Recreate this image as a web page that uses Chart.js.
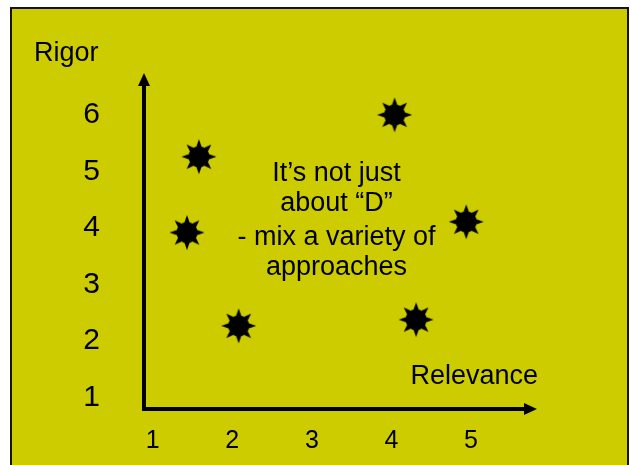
<!DOCTYPE html>
<html lang="en">
<head>
<meta charset="UTF-8" />
<title>Rigor vs Relevance</title>
<script src="https://cdn.jsdelivr.net/npm/chart.js"></script>
<style>
    body {
        margin: 0;
        background: #fff;
    }

    .frame {
        position: absolute;
        left: 10px;
        top: 7px;
        width: 619px;
        height: 470px;
        box-sizing: border-box;
        background: #cccc00;
        border: 2px solid #161600;
        border-bottom: none;
    }

    #chart {
        position: absolute;
        left: 0;
        top: 0;
    }
</style>
</head>
<body>
<div class="frame"></div>
<canvas id="chart" width="630" height="465"></canvas>

<script>
    // approaches placed on the relevance / rigor plane
    const relevance = [1.58, 1.43, 2.08, 4.04, 4.94, 4.31];
    const rigor = [5.26, 3.92, 2.27, 6.0, 4.11, 2.38];

    const xTickValues = [1, 2, 3, 4, 5];
    const yTickValues = [1, 2, 3, 4, 5, 6];

    const xTitle = "Relevance";
    const yTitle = "Rigor";
    const noteLines = ["It’s not just", "about “D”", "- mix a variety of", "approaches"];

    const FONT = "'Liberation Sans', Arial, sans-serif";

    // sun marker: black disc with 8 pointed rays
    function makeSun() {
        const c = document.createElement("canvas");
        c.width = 38;
        c.height = 38;
        const g = c.getContext("2d");
        g.fillStyle = "#000";
        g.translate(19, 19);
        for (let i = 0; i < 8; i++) {
            g.save();
            g.rotate(i * Math.PI / 4);
            g.beginPath();
            g.moveTo(17.5, 0);
            g.lineTo(9, -3);
            g.lineTo(9, 3);
            g.closePath();
            g.fill();
            g.restore();
        }
        g.beginPath();
        g.arc(0, 0, 10.5, 0, Math.PI * 2);
        g.fill();
        return c;
    }

    // arrowed axes, axis titles and the note in the middle
    const diagram = {
        id: "diagram",
        beforeDatasetsDraw(chart) {
            const { ctx, chartArea: a } = chart;
            ctx.save();
            ctx.strokeStyle = "#000";
            ctx.fillStyle = "#000";
            ctx.lineWidth = 4;
            ctx.lineCap = "butt";
            ctx.beginPath();
            ctx.moveTo(a.left, a.top + 12);
            ctx.lineTo(a.left, a.bottom);
            ctx.lineTo(a.right - 12, a.bottom);
            ctx.stroke();
            // up arrow
            ctx.beginPath();
            ctx.moveTo(a.left, a.top);
            ctx.lineTo(a.left - 6, a.top + 13);
            ctx.lineTo(a.left + 6, a.top + 13);
            ctx.closePath();
            ctx.fill();
            // right arrow
            ctx.beginPath();
            ctx.moveTo(a.right, a.bottom);
            ctx.lineTo(a.right - 13, a.bottom - 6);
            ctx.lineTo(a.right - 13, a.bottom + 6);
            ctx.closePath();
            ctx.fill();
            ctx.restore();
        },
        afterDraw(chart) {
            const { ctx, chartArea: a, scales } = chart;
            ctx.save();
            ctx.fillStyle = "#000";
            ctx.textBaseline = "alphabetic";

            ctx.font = "27px " + FONT;
            ctx.textAlign = "left";
            ctx.fillText(yTitle, 34, 61);
            ctx.textAlign = "right";
            ctx.fillText(xTitle, a.right + 1, a.bottom - 25);

            ctx.textAlign = "center";
            const cx = scales.x.getPixelForValue(3.31);
            const y0 = 181;
            const offsets = [0, 30, 64, 94];
            noteLines.forEach((t, i) => ctx.fillText(t, cx, y0 + offsets[i]));
            ctx.restore();
        }
    };

    const points = relevance.map((x, i) => ({ x: x, y: rigor[i] }));

    new Chart(document.getElementById("chart"), {
        type: "scatter",
        data: {
            datasets: [{
                data: points,
                pointStyle: makeSun(),
                pointRadius: 18
            }]
        },
        options: {
            responsive: false,
            animation: false,
            devicePixelRatio: 1,
            events: [],
            layout: {
                padding: { left: 0, top: 73, right: 93, bottom: 0 }
            },
            plugins: {
                legend: { display: false },
                tooltip: { enabled: false }
            },
            scales: {
                x: {
                    type: "linear",
                    min: 0.89,
                    max: 5.83,
                    grid: { display: false, drawTicks: false },
                    border: { display: false },
                    afterBuildTicks: s => { s.ticks = xTickValues.map(v => ({ value: v })); },
                    afterFit: s => {
                        s.height = 56;
                        s.paddingLeft = 0;
                        s.paddingRight = 0;
                    },
                    ticks: {
                        color: "#000",
                        padding: 17,
                        maxRotation: 0,
                        autoSkip: false,
                        font: { family: FONT, size: 25 },
                        callback: v => String(v)
                    }
                },
                y: {
                    type: "linear",
                    min: 0.8,
                    max: 6.74,
                    grid: { display: false, drawTicks: false },
                    border: { display: false },
                    afterBuildTicks: s => { s.ticks = yTickValues.map(v => ({ value: v })); },
                    afterFit: s => {
                        s.width = 144;
                        s.paddingTop = 0;
                        s.paddingBottom = 0;
                    },
                    ticks: {
                        color: "#000",
                        padding: 44,
                        autoSkip: false,
                        font: { family: FONT, size: 30 },
                        callback: v => String(v)
                    }
                }
            }
        },
        plugins: [diagram]
    });
</script>
</body>
</html>
